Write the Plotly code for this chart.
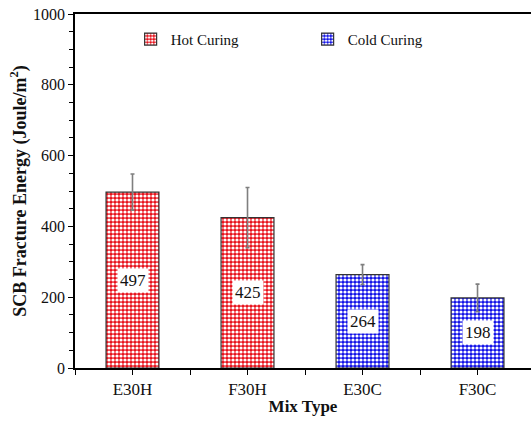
import plotly.graph_objects as go

# SCB fracture energy by mix type
categories = ["E30H", "F30H", "E30C", "F30C"]
energy = [497, 425, 264, 198]
error = [51, 85, 28, 39]
group = ["Hot Curing", "Hot Curing", "Cold Curing", "Cold Curing"]

y_ticks = [0, 200, 400, 600, 800, 1000]

series_style = {
    "Hot Curing": "#e8101a",
    "Cold Curing": "#1010e8",
}

SERIF = "Liberation Serif"
positions = list(range(len(categories)))

fig = go.Figure()
for name, color in series_style.items():
    idx = [i for i, g in enumerate(group) if g == name]
    fig.add_trace(go.Bar(
        x=[positions[i] for i in idx],
        y=[energy[i] for i in idx],
        name=name,
        width=0.46,
        marker=dict(
            color=color,
            line=dict(color="#333333", width=1.2),
            pattern=dict(shape=".", fgcolor="white", bgcolor=color,
                         size=4, solidity=0.5, fillmode="replace"),
        ),
        error_y=dict(type="data", array=[error[i] for i in idx],
                     color="#7f7f7f", thickness=1.6, width=2),
    ))

# value boxes centred in each bar
for p, v in zip(positions, energy):
    fig.add_annotation(
        x=p, y=v / 2, text=str(v), showarrow=False,
        font=dict(family=SERIF, size=17, color="#111111"),
        bgcolor="white", borderpad=2,
    )

fig.update_layout(
    width=531, height=421,
    margin=dict(l=75, r=0, t=14, b=53),
    plot_bgcolor="white", paper_bgcolor="white",
    font=dict(family=SERIF, size=15, color="#111111"),
    bargap=0.54,
    showlegend=True,
    legend=dict(
        orientation="h", x=0.122, y=0.975, xanchor="left", yanchor="top",
        font=dict(family=SERIF, size=15), itemwidth=30, tracegroupgap=0,
        entrywidth=132, entrywidthmode="pixels",
        bgcolor="rgba(0,0,0,0)",
    ),
    xaxis=dict(
        range=[-0.5, 3.465],
        tickvals=positions, ticktext=categories,
        ticks="outside", ticklen=5, tickcolor="#000", tickwidth=1,
        minor=dict(tick0=-0.5, dtick=1, ticks="outside", ticklen=5,
                   tickcolor="#000", tickwidth=1),
        showline=True, linecolor="#000", linewidth=1.5, mirror=True,
        showgrid=False, zeroline=False,
        tickfont=dict(family=SERIF, size=17),
        title=dict(text="<b>Mix Type</b>", font=dict(family=SERIF, size=17),
                   standoff=2),
    ),
    yaxis=dict(
        range=[0, 1000],
        tickvals=y_ticks,
        ticks="outside", ticklen=5, tickcolor="#000", tickwidth=1,
        minor=dict(dtick=50, ticks="outside", ticklen=4,
                   tickcolor="#000", tickwidth=1),
        showline=True, linecolor="#000", linewidth=1.5,
        showgrid=False, zeroline=False,
        tickfont=dict(family=SERIF, size=16),
        title=dict(text="<b>SCB Fracture Energy (Joule/m<sup>2</sup>)</b>",
                   font=dict(family=SERIF, size=18), standoff=2),
    ),
)

fig.write_html("out.html")
